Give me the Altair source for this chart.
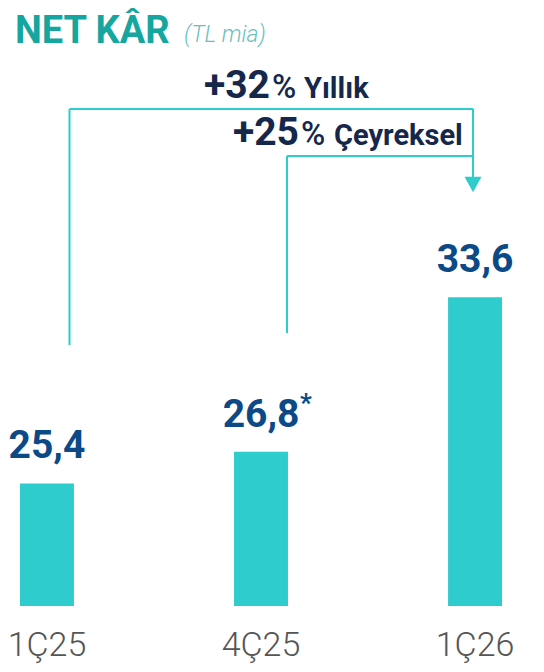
import altair as alt
import pandas as pd

# ---- data ----
categories = ["1Ç25", "4Ç25", "1Ç26"]
values = [25.4, 26.8, 33.6]
value_labels = ["25,4", "26,8", "33,6"]
footnote_category = "4Ç25"

yoy_change = "+32"
qoq_change = "+25"
yoy_word = "Yıllık"
qoq_word = "Çeyreksel"
title_main = "NET KÂR"
title_unit = "(TL mia)"

df = pd.DataFrame({"q": categories, "v": values, "lbl": value_labels})
one = pd.DataFrame({"a": [0]})

TEAL = "#2ECCCC"
NAVY = "#0B4A87"
DARK = "#15284C"
TITLE_TEAL = "#16A6A0"
FONT = "Roboto"

TOP = 6  # top padding


def px(v):
    return v - 8


def py(v):
    return v - 8 - TOP


x = alt.X(
    "q:N",
    sort=categories,
    scale=alt.Scale(paddingInner=0.748, paddingOuter=0.056),
    axis=alt.Axis(
        title=None, labelAngle=0, domain=False, ticks=False, grid=False,
        labelFontSize=34, labelFont=FONT, labelFontWeight=300,
        labelColor="#555555", labelPadding=22,
    ),
)
y = alt.Y("v:Q", scale=alt.Scale(domain=[20, 46.08], zero=False, nice=False), axis=None)

base = alt.Chart(df)

bars = base.mark_bar(color=TEAL).encode(x=x, y=y, y2=alt.datum(20))

labels = base.mark_text(
    font=FONT, fontWeight="bold", fontSize=39, color=NAVY,
    baseline="alphabetic", dy=-25,
).encode(x=x, y=y, text="lbl:N")

star = base.transform_filter(alt.datum.q == footnote_category).mark_text(
    text="*", font=FONT, fontWeight="bold", fontSize=26, color=NAVY,
    baseline="alphabetic", dx=45, dy=-40,
).encode(x=x, y=y)


def rule(x1, x2, y1, y2):
    return alt.Chart(one).mark_rule(color=TEAL, strokeWidth=2).encode(
        x=alt.value(px(x1)), x2=alt.value(px(x2)), y=alt.value(py(y1)), y2=alt.value(py(y2))
    )


def txt(t, xp, yp, size, weight="bold", color=DARK, align="left", style="normal"):
    return alt.Chart(one).mark_text(
        text=t, font=FONT, fontSize=size, fontWeight=weight, color=color,
        align=align, baseline="alphabetic", fontStyle=style,
    ).encode(x=alt.value(px(xp)), y=alt.value(py(yp)))


brackets = [
    rule(69.5, 69.5, 109, 345),
    rule(69.5, 473, 109, 109),
    rule(473, 473, 109, 179),
    rule(287, 287, 156, 333),
    rule(287, 473, 156, 156),
]

arrow = alt.Chart(one).mark_point(
    shape="M-1,-0.9L1,-0.9L0,0.9Z", filled=True, color=TEAL, opacity=1, size=289,
).encode(x=alt.value(px(473)), y=alt.value(py(184.5)))

texts = [
    txt(yoy_change, 270, 98, 39, align="right"),
    txt("%", 272, 98, 33, weight=500),
    txt(yoy_word, 304, 98, 29),
    txt(qoq_change, 299, 145, 39, align="right"),
    txt("%", 301, 145, 33, weight=500),
    txt(qoq_word, 334, 145, 29),
    txt(title_main, 15, 43, 38, color=TITLE_TEAL),
    txt(title_unit, 184, 42, 23, weight=300, color="#6BBFC0", style="italic"),
]

chart = alt.layer(bars, labels, star, *brackets, arrow, *texts).properties(
    width=506,
    height=592,
    padding={"left": 0, "top": TOP, "right": 22, "bottom": 57},
    autosize=alt.AutoSizeParams(type="none"),
).configure_view(stroke=None)

chart.save("out.html", embed_options={"renderer": "svg", "actions": False})
